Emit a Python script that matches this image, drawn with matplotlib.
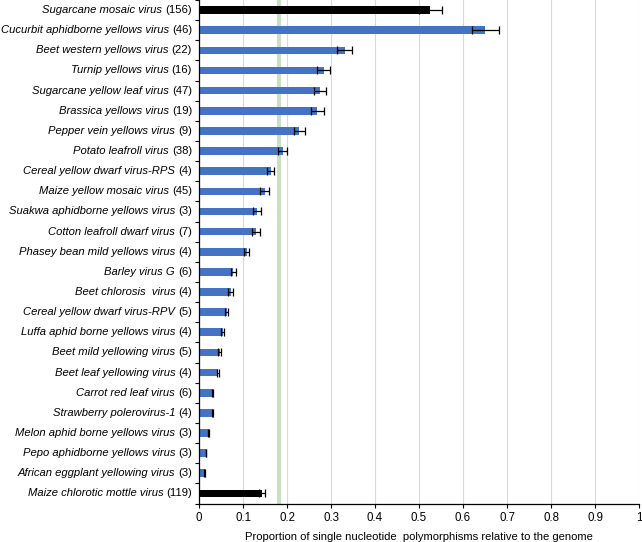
import matplotlib
matplotlib.use("Agg")
import matplotlib.pyplot as plt
import numpy as np

plt.rcParams['font.family'] = ['Liberation Sans', 'DejaVu Sans']

names = ["Sugarcane mosaic virus", "Cucurbit aphidborne yellows virus", "Beet western yellows virus",
         "Turnip yellows virus", "Sugarcane yellow leaf virus", "Brassica yellows virus",
         "Pepper vein yellows virus", "Potato leafroll virus", "Cereal yellow dwarf virus-RPS",
         "Maize yellow mosaic virus", "Suakwa aphidborne yellows virus", "Cotton leafroll dwarf virus",
         "Phasey bean mild yellows virus", "Barley virus G", "Beet chlorosis  virus",
         "Cereal yellow dwarf virus-RPV", "Luffa aphid borne yellows virus", "Beet mild yellowing virus",
         "Beet leaf yellowing virus", "Carrot red leaf virus", "Strawberry polerovirus-1",
         "Melon aphid borne yellows virus", "Pepo aphidborne yellows virus",
         "African eggplant yellowing virus", "Maize chlorotic mottle virus"]
counts = [156, 46, 22, 16, 47, 19, 9, 38, 4, 45, 3, 7, 4, 6, 4, 5, 4, 5, 4, 6, 4, 3, 3, 3, 119]
values = [0.526, 0.651, 0.331, 0.283, 0.275, 0.269, 0.228, 0.190, 0.163, 0.149, 0.132, 0.129,
          0.108, 0.078, 0.072, 0.063, 0.054, 0.047, 0.044, 0.031, 0.031, 0.022, 0.016, 0.013, 0.144]
errors = [0.026, 0.031, 0.017, 0.015, 0.014, 0.015, 0.012, 0.011, 0.008, 0.010, 0.009, 0.009,
          0.006, 0.005, 0.005, 0.003, 0.003, 0.003, 0.002, 0.001, 0.001, 0.001, 0.001, 0.001, 0.007]
reference_line = 0.181
xticks = [0, 0.1, 0.2, 0.3, 0.4, 0.5, 0.6, 0.7, 0.8, 0.9, 1]
xticklabels = ["0", "0.1", "0.2", "0.3", "0.4", "0.5", "0.6", "0.7", "0.8", "0.9", "1"]

n = len(names)
colors = ["#000000"] + ["#4472C4"] * (n - 2) + ["#000000"]

fig = plt.figure(figsize=(6.42, 5.42), dpi=100)
ax = fig.add_axes([199 / 642, 1 - 503.5 / 542, (639 - 199) / 642, 503.5 / 542])

y = np.arange(n)
ax.set_axisbelow(True)
ax.grid(axis='x', color='#d9d9d9', linewidth=0.8)
ax.axvline(reference_line, color='#c9e0c3', linewidth=3.0, zorder=1)
ax.barh(y, values, height=0.38, color=colors, zorder=2)
ax.errorbar(values, y, xerr=errors, fmt='none', ecolor='black', elinewidth=0.9,
            capsize=2.8, capthick=0.9, zorder=3)

ax.set_xlim(0, 1)
ax.set_ylim(n - 0.5, -0.5)
ax.set_xticks(xticks)
ax.set_xticklabels(xticklabels, fontsize=8.3)
ax.tick_params(axis='x', length=3, width=0.8, pad=3)

ax.set_yticks(np.arange(n + 1) - 0.5)
ax.set_yticklabels([])
ax.tick_params(axis='y', length=3, width=0.8)

for s in ['top', 'right']:
    ax.spines[s].set_visible(False)
ax.spines['left'].set_linewidth(0.9)
ax.spines['bottom'].set_linewidth(0.9)

for i, (nm, c) in enumerate(zip(names, counts)):
    ct = ax.annotate(f"({c})", xy=(0, i), xycoords=('axes fraction', 'data'),
                     xytext=(-5, 0), textcoords='offset points',
                     ha='right', va='center', fontsize=8.1)
    ax.annotate(nm + " ", xy=(0, 0.5), xycoords=ct, ha='right', va='center',
                fontsize=8.1, fontstyle='italic')

ax.set_xlabel("Proportion of single nucleotide  polymorphisms relative to the genome",
              fontsize=8.1, labelpad=6)

fig.savefig("out.png", dpi=100)
